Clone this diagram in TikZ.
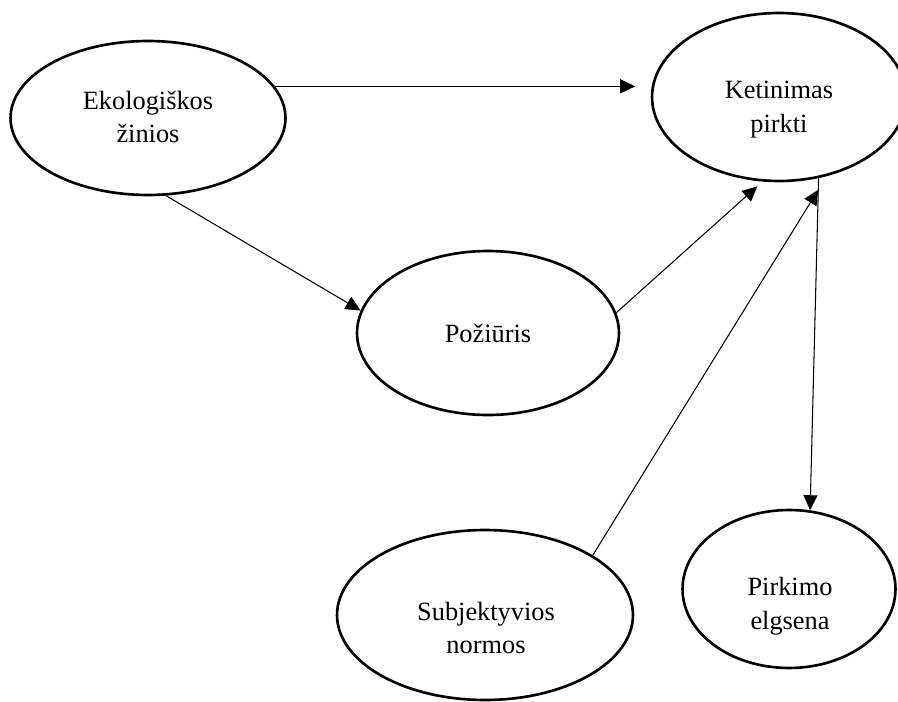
\documentclass[tikz,border=0pt]{standalone}
\usepackage{fontspec}
\setmainfont{Liberation Serif}
\usetikzlibrary{arrows.meta, calc, shapes.geometric}

\begin{document}
\begin{tikzpicture}[x=0.02cm, y=-0.02cm,
      ell/.style={ellipse, draw, line width=1.5pt, inner sep=0pt},
      txt/.style={align=center, inner sep=0pt, font=\fontsize{15}{19.3}\selectfont},
      arr/.style={-{Triangle[length=0.3cm, width=0.28cm]}, line width=0.6pt}]
  \useasboundingbox (0,0) rectangle (898,702);
  % ellipses
  \node[ell, minimum width=5.5cm, minimum height=3.08cm] (eko) at (148,118) {};
  \node[ell, minimum width=5.08cm, minimum height=3.36cm] (ket) at (779,97) {};
  \node[ell, minimum width=5.24cm, minimum height=3.28cm] (poz) at (488,333) {};
  \node[ell, minimum width=5.92cm, minimum height=3.4cm] (subj) at (485,615) {};
  \node[ell, minimum width=4.26cm, minimum height=3.16cm] (pirk) at (789,589) {};
  % texts
  \node[txt] (eko-t) at (148,117) {Ekologiškos\\žinios};
  \node[txt] (ket-t) at (779,110) {Ketinimas\\pirkti};
  \node[txt] (poz-t) at (488,333) {Požiūris};
  \node[txt] (subj-t) at (486,628) {Subjektyvios\\normos};
  \node[txt] (pirk-t) at (790,606) {Pirkimo\\elgsena};
  % arrows
  \draw[arr, shorten >=0.31cm] (eko.14) -- (eko.14 -| ket.west);
  \draw[arr] (eko.-77) -- (poz.170);
  \draw[arr, shorten >=0.14cm] (poz.9) -- (ket.-101);
  \draw[arr] (ket.-64) -- (pirk.75);
  \draw[arr] (subj.29) -- ($(ket.-64)!0.035!(pirk.75)$);
\end{tikzpicture}
\end{document}
